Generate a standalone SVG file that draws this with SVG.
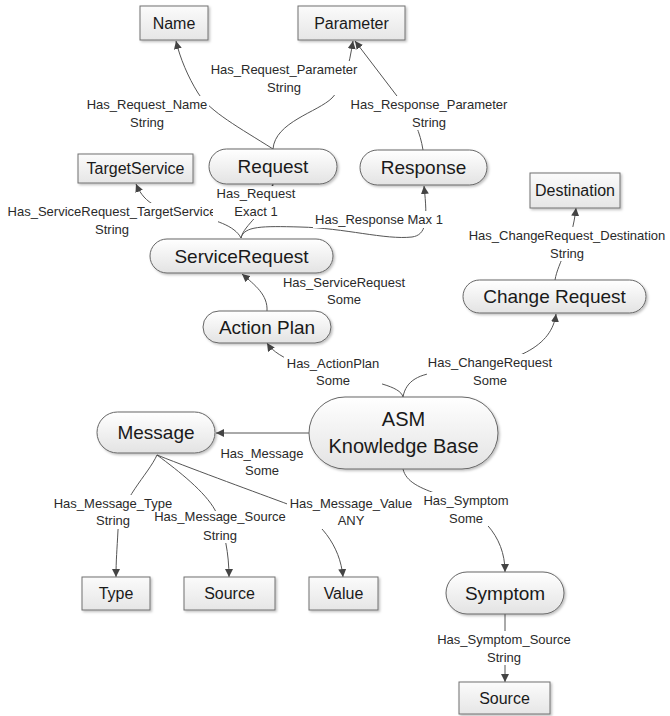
<svg xmlns="http://www.w3.org/2000/svg" width="670" height="716" viewBox="0 0 670 716">
  <defs>
    <linearGradient id="pillGrad" x1="0" y1="0" x2="0" y2="1">
      <stop offset="0" stop-color="#ffffff"/>
      <stop offset="1" stop-color="#e3e3e3"/>
    </linearGradient>
    <linearGradient id="boxGrad" x1="0" y1="0" x2="0" y2="1">
      <stop offset="0" stop-color="#fbfbfb"/>
      <stop offset="1" stop-color="#e6e6e6"/>
    </linearGradient>
    <filter id="shadow" x="-10%" y="-20%" width="130%" height="150%">
      <feDropShadow dx="1.5" dy="1.5" stdDeviation="1" flood-color="#000" flood-opacity="0.25"/>
    </filter>
    <marker id="arrow" viewBox="0 0 10 10" refX="10" refY="5" markerWidth="8" markerHeight="8" markerUnits="userSpaceOnUse" orient="auto">
      <path d="M0,0 L10,5 L0,10 z" fill="#444"/>
    </marker>
  </defs>
  <style>
    .edge { fill: none; stroke: #555; stroke-width: 1; marker-end: url(#arrow); }
    .lblbg { fill: #ffffff; }
    .lbl { font-family: "Liberation Sans", Arial, sans-serif; font-size: 13px; fill: #2a2a2a; text-anchor: middle; }
    .pill { fill: url(#pillGrad); stroke: #666; stroke-width: 1; filter: url(#shadow); }
    .box { fill: url(#boxGrad); stroke: #707070; stroke-width: 1; filter: url(#shadow); }
    .pt { font-family: "Liberation Sans", Arial, sans-serif; font-size: 19px; fill: #1a1a1a; text-anchor: middle; }
    .bt { font-family: "Liberation Sans", Arial, sans-serif; font-size: 16px; fill: #1a1a1a; text-anchor: middle; }
    .kb { font-family: "Liberation Sans", Arial, sans-serif; font-size: 20px; fill: #1a1a1a; text-anchor: middle; }
  </style>

  <!-- connector lines -->
  <g id="connectors">
    <path class="edge" d="M273,149 C240,128 210,112 198,93 C188,77 180,58 176,41"/>
    <path class="edge" d="M273,149 C275,122 318,112 332,98 C345,85 349,65 353,41"/>
    <path class="edge" d="M423,150 C420,132 415,120 400,100 L355,41"/>
    <path class="edge" d="M241,238 C244,224 265,215 273,184"/>
    <path class="edge" d="M241,238 C244,226 262,226 300,227 C345,228 385,240 412,237 C426,235 428,222 424,186"/>
    <path class="edge" d="M241,238 C235,226 215,219 190,215 C160,210 145,205 136,184"/>
    <path class="edge" d="M267,311 C268,295 255,285 242,274"/>
    <path class="edge" d="M555,280 C558,262 572,245 576,208"/>
    <path class="edge" d="M403,397 C398,375 290,378 267,343"/>
    <path class="edge" d="M403,397 C406,380 420,374 440,372 C520,365 552,345 556,314"/>
    <path class="edge" d="M309,433 L216,433"/>
    <path class="edge" d="M157,455 C148,475 120,500 118,530 C117,550 116,560 116,577"/>
    <path class="edge" d="M157,455 C180,472 205,492 215,510 C225,530 229,555 229,577"/>
    <path class="edge" d="M157,455 C200,472 255,492 290,505 C320,520 340,545 343,577"/>
    <path class="edge" d="M403,469 C406,482 420,488 440,495 C480,510 505,535 505,572"/>
    <path class="edge" d="M505,614 L505,682"/>

    <!-- connector labels -->
    <g>
      <rect class="lblbg" x="85" y="96" width="124" height="34"/>
      <text class="lbl" x="147" y="108.5">Has_Request_Name</text>
      <text class="lbl" x="147" y="126.5">String</text>
    </g>
    <g>
      <rect class="lblbg" x="208" y="61" width="152" height="34"/>
      <text class="lbl" x="284" y="73.5">Has_Request_Parameter</text>
      <text class="lbl" x="284" y="91.5">String</text>
    </g>
    <g>
      <rect class="lblbg" x="350" y="96" width="160" height="34"/>
      <text class="lbl" x="429" y="108.5">Has_Response_Parameter</text>
      <text class="lbl" x="429" y="126.5">String</text>
    </g>
    <g>
      <rect class="lblbg" x="4" y="203" width="214" height="34"/>
      <text class="lbl" x="112" y="215.5">Has_ServiceRequest_TargetService</text>
      <text class="lbl" x="112" y="233.5">String</text>
    </g>
    <g>
      <rect class="lblbg" x="213" y="186" width="84" height="33"/>
      <text class="lbl" x="256" y="197.5">Has_Request</text>
      <text class="lbl" x="256" y="215.5">Exact 1</text>
    </g>
    <g>
      <rect class="lblbg" x="313" y="211" width="132" height="17"/>
      <text class="lbl" x="379" y="223.5">Has_Response Max 1</text>
    </g>
    <g>
      <text class="lbl" x="344" y="286.5">Has_ServiceRequest</text>
      <text class="lbl" x="344" y="303.5">Some</text>
    </g>
    <g>
      <rect class="lblbg" x="466" y="227" width="204" height="34"/>
      <text class="lbl" x="567" y="239.5">Has_ChangeRequest_Destination</text>
      <text class="lbl" x="567" y="257.5">String</text>
    </g>
    <g>
      <rect class="lblbg" x="284" y="355" width="98" height="33"/>
      <text class="lbl" x="333" y="367.5">Has_ActionPlan</text>
      <text class="lbl" x="333" y="384.5">Some</text>
    </g>
    <g>
      <rect class="lblbg" x="427" y="354" width="127" height="34"/>
      <text class="lbl" x="490" y="366.5">Has_ChangeRequest</text>
      <text class="lbl" x="490" y="384.5">Some</text>
    </g>
    <g>
      <text class="lbl" x="262" y="457.5">Has_Message</text>
      <text class="lbl" x="262" y="474.5">Some</text>
    </g>
    <g>
      <rect class="lblbg" x="52" y="495" width="122" height="34"/>
      <text class="lbl" x="113" y="507.5">Has_Message_Type</text>
      <text class="lbl" x="113" y="524.5">String</text>
    </g>
    <g>
      <rect class="lblbg" x="153" y="511" width="134" height="32"/>
      <text class="lbl" x="220" y="520.5">Has_Message_Source</text>
      <text class="lbl" x="220" y="539.5">String</text>
    </g>
    <g>
      <rect class="lblbg" x="287" y="495" width="128" height="34"/>
      <text class="lbl" x="351" y="507.5">Has_Message_Value</text>
      <text class="lbl" x="351" y="524.5">ANY</text>
    </g>
    <g>
      <rect class="lblbg" x="421" y="492" width="90" height="34"/>
      <text class="lbl" x="466" y="504.5">Has_Symptom</text>
      <text class="lbl" x="466" y="522.5">Some</text>
    </g>
    <g>
      <rect class="lblbg" x="434" y="631" width="140" height="34"/>
      <text class="lbl" x="504" y="643.5">Has_Symptom_Source</text>
      <text class="lbl" x="504" y="661.5">String</text>
    </g>
  </g>

  <!-- attribute boxes -->
  <g id="name"><rect class="box" x="140" y="6" width="68" height="34"/><text class="bt" x="174" y="28.7">Name</text></g>
  <g id="parameter"><rect class="box" x="298" y="6" width="107" height="34"/><text class="bt" x="351.5" y="28.7">Parameter</text></g>
  <g id="targetservice"><rect class="box" x="78" y="154" width="115" height="29"/><text class="bt" x="135.5" y="174.2">TargetService</text></g>
  <g id="destination"><rect class="box" x="530" y="173" width="90" height="35"/><text class="bt" x="575" y="196.2">Destination</text></g>
  <g id="type"><rect class="box" x="82" y="577" width="68" height="33"/><text class="bt" x="116" y="599.2">Type</text></g>
  <g id="message-source"><rect class="box" x="184" y="577" width="91" height="33"/><text class="bt" x="229.5" y="599.2">Source</text></g>
  <g id="value"><rect class="box" x="309" y="577" width="69" height="33"/><text class="bt" x="343.5" y="599.2">Value</text></g>
  <g id="symptom-source"><rect class="box" x="459" y="682" width="91" height="32"/><text class="bt" x="504.5" y="703.7">Source</text></g>

  <!-- concept nodes -->
  <g id="request"><rect class="pill" x="209" y="149" width="128" height="35" rx="17.5"/><text class="pt" x="273" y="173.3">Request</text></g>
  <g id="response"><rect class="pill" x="360" y="150" width="127" height="35" rx="17.5"/><text class="pt" x="423.5" y="174.3">Response</text></g>
  <g id="servicerequest"><rect class="pill" x="150" y="239" width="183" height="34" rx="17"/><text class="pt" x="241.5" y="262.8">ServiceRequest</text></g>
  <g id="actionplan"><rect class="pill" x="203" y="311" width="128" height="32" rx="16"/><text class="pt" x="267" y="333.8">Action Plan</text></g>
  <g id="changerequest"><rect class="pill" x="463" y="280" width="183" height="33" rx="16.5"/><text class="pt" x="554.5" y="303.3">Change Request</text></g>
  <g id="asm-kb"><rect class="pill" x="309" y="397" width="189" height="72" rx="36"/><text class="kb" x="403.5" y="425.5">ASM</text><text class="kb" x="403.5" y="453">Knowledge Base</text></g>
  <g id="message"><rect class="pill" x="97" y="412" width="118" height="41" rx="20.5"/><text class="pt" x="156" y="439.3">Message</text></g>
  <g id="symptom"><rect class="pill" x="446" y="572" width="118" height="42" rx="21"/><text class="pt" x="505" y="599.8">Symptom</text></g>
</svg>
